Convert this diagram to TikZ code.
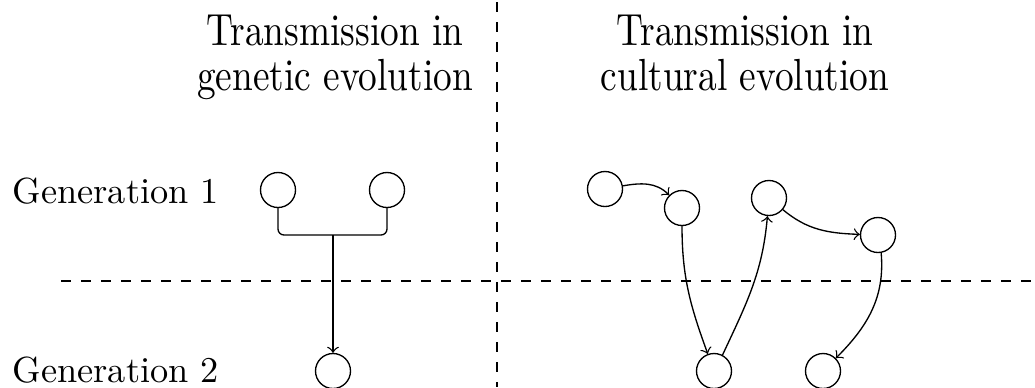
\documentclass[tikz,border=0pt]{standalone}
\usepackage{graphicx}
\usetikzlibrary{arrows}
\newcommand{\headtext}[1]{\scalebox{1.12}[1.35]{\fontsize{10}{10}\selectfont\begin{tabular}{@{}c@{}}#1\end{tabular}}}
\begin{document}
\begin{tikzpicture}[x=0.3pt,y=0.3pt,
  indiv/.style={circle,draw,line width=0.4pt,minimum size=10.5pt,inner sep=0pt},
  conn/.style={->,line width=0.4pt},
  heading/.style={anchor=north,inner sep=0pt},
  genlabel/.style={anchor=base west,font=\fontsize{10.9}{13}\selectfont,inner sep=0pt},
  divider/.style={dashed,line width=0.4pt}]
\useasboundingbox (0,0) rectangle (1035,-387);
% dividers
\coordinate (vt) at (497,-2);
\coordinate (vb) at (497,-387);
\coordinate (hl) at (61,-281);
\coordinate (hr) at (1035,-281);
\draw[divider] (vt) -- (vb);
\draw[divider] (hl) -- (hr);
% headings
\node[heading] (hg) at (335,-13) {\headtext{Transmission in\\genetic evolution}};
\node[heading] (hc) at (745,-13) {\headtext{Transmission in\\cultural evolution}};
% generation labels
\node[genlabel] (gen1) at (12,-203) {Generation 1};
\node[genlabel] (gen2) at (12,-382) {Generation 2};
% genetic
\node[indiv] (g1) at (278,-190) {};
\node[indiv] (g2) at (387,-190) {};
\node[indiv] (g3) at (333,-371) {};
\coordinate (gm) at (333,-235);
\draw[line width=0.4pt,rounded corners=1.8pt] (g1.south) |- (gm) -| (g2.south);
\draw[conn] (gm) -- (g3.north);
% cultural
\node[indiv] (c1) at (605,-189) {};
\node[indiv] (c2) at (682,-208) {};
\node[indiv] (c3) at (769,-198) {};
\node[indiv] (c4) at (878,-235) {};
\node[indiv] (c5) at (714,-371) {};
\node[indiv] (c6) at (823,-371) {};
\draw[conn] (c1.10) to[out=10,in=135] (c2.135);
\draw[conn] (c2.south) to[out=-90,in=110] (c5.110);
\draw[conn] (c5.62) to[out=65,in=-95] (c3.-95);
\draw[conn] (c3.-40) to[out=-40,in=178] (c4.178);
\draw[conn] (c4.-80) to[out=-85,in=45] (c6.45);
\end{tikzpicture}
\end{document}
